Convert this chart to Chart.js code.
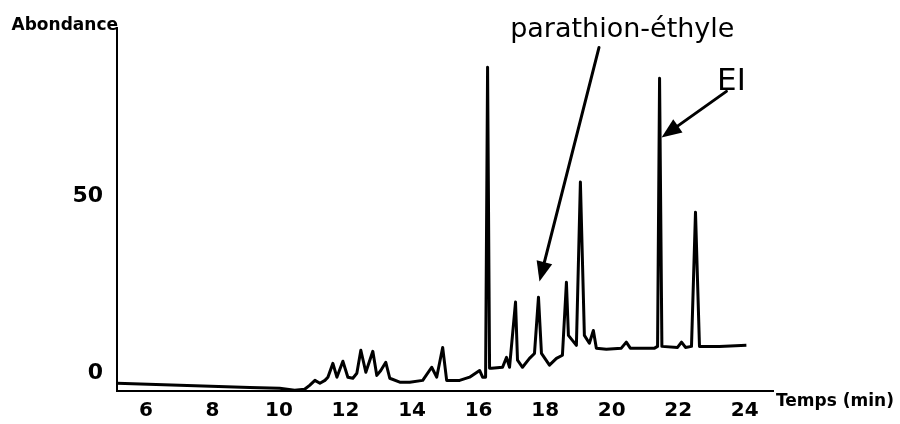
<!DOCTYPE html>
<html>
<head>
<meta charset="utf-8">
<script src="https://cdn.jsdelivr.net/npm/chart.js@4/dist/chart.umd.min.js"></script>
<style>
  html, body { margin: 0; padding: 0; background: #fff; }
  #wrap { width: 900px; height: 424px; }
</style>
</head>
<body>
<div id="wrap"><canvas id="chromato" width="900" height="424"></canvas></div>
<script>
// Retention time (min) and abundance
const times = [
  5.13, 9.12, 10.02, 10.47, 10.77, 10.92, 11.08, 11.23, 11.38, 11.47,
  11.62, 11.74, 11.92, 12.07, 12.22, 12.34, 12.46, 12.61, 12.82, 12.94,
  13.06, 13.21, 13.33, 13.63, 13.93, 14.32, 14.59, 14.74, 14.92, 15.04,
  15.43, 15.73, 16.03, 16.12, 16.21, 16.27, 16.33, 16.39, 16.72, 16.84,
  16.93, 17.11, 17.17, 17.32, 17.53, 17.68, 17.80, 17.89, 18.13, 18.34,
  18.52, 18.64, 18.70, 18.82, 18.94, 19.06, 19.18, 19.33, 19.45, 19.54,
  19.84, 20.29, 20.44, 20.56, 21.29, 21.38, 21.44, 21.51, 21.98, 22.10,
  22.22, 22.40, 22.52, 22.64, 23.24, 24.05
];
const abundance = [
  -2.8, -4.0, -4.2, -4.8, -4.5, -3.4, -2.0, -2.8, -2.0, -1.1,
  2.8, -1.1, 3.4, -1.1, -1.4, 0.0, 6.5, 0.3, 6.2, -0.6,
  0.8, 3.1, -1.4, -2.5, -2.5, -2.0, 1.7, -1.1, 7.3, -2.0,
  -2.0, -1.1, 0.8, -1.1, -1.1, 86.4, 1.4, 1.4, 1.7, 4.5,
  1.7, 20.1, 3.7, 1.7, 4.2, 5.6, 21.5, 5.6, 2.3, 4.2,
  5.1, 25.7, 10.7, 9.3, 7.9, 54.0, 10.7, 8.5, 12.1, 7.1,
  6.8, 7.1, 8.8, 7.1, 7.1, 7.6, 83.3, 7.6, 7.3, 8.8,
  7.3, 7.6, 45.5, 7.6, 7.6, 7.9
];

const xTicks = [6, 8, 10, 12, 14, 16, 18, 20, 22, 24];
const yTicks = [0, 50];

const xLabel = 'Temps (min)';
const yLabel = 'Abondance';

// annotations: label (centre/baseline) + arrow from (fromT, fromV) to (toT, toV), in data units
const noteLabels = ['parathion-éthyle', 'EI'];
const noteTextT = [20.32, 23.60];
const noteTextV = [94.9, 79.9];
const noteFromT = [19.62, 23.45];
const noteFromV = [92.0, 79.6];
const noteToT = [17.83, 21.50];
const noteToV = [25.9, 66.6];

const FONT = '"DejaVu Sans", sans-serif';

const points = times.map((t, i) => ({ x: t, y: abundance[i] }));

function drawArrow(ctx, x1, y1, x2, y2) {
  const ang = Math.atan2(y2 - y1, x2 - x1);
  const headLen = 20, headW = 8;
  const bx = x2 - headLen * Math.cos(ang), by = y2 - headLen * Math.sin(ang);
  ctx.beginPath();
  ctx.moveTo(x1, y1);
  ctx.lineTo(bx, by);
  ctx.stroke();
  ctx.beginPath();
  ctx.moveTo(x2, y2);
  ctx.lineTo(bx + headW * Math.sin(ang), by - headW * Math.cos(ang));
  ctx.lineTo(bx - headW * Math.sin(ang), by + headW * Math.cos(ang));
  ctx.closePath();
  ctx.fill();
}

const notesPlugin = {
  id: 'notes',
  afterDraw(chart) {
    const ctx = chart.ctx;
    const xs = chart.scales.x, ys = chart.scales.y;
    const area = chart.chartArea;
    ctx.save();
    ctx.fillStyle = '#000';
    ctx.strokeStyle = '#000';
    ctx.lineWidth = 3;
    ctx.lineCap = 'round';

    // axis titles
    ctx.font = 'bold 17px ' + FONT;
    ctx.textBaseline = 'alphabetic';
    ctx.textAlign = 'right';
    ctx.fillText(yLabel, area.left + 1, area.top + 2);
    ctx.textAlign = 'left';
    ctx.fillText(xLabel, area.right + 3, area.bottom + 15);

    // annotations
    noteLabels.forEach((txt, i) => {
      ctx.font = (i === 0 ? '27px ' : '31px ') + FONT;
      ctx.textAlign = 'center';
      ctx.fillText(txt, xs.getPixelForValue(noteTextT[i]), ys.getPixelForValue(noteTextV[i]));
      drawArrow(ctx,
        xs.getPixelForValue(noteFromT[i]), ys.getPixelForValue(noteFromV[i]),
        xs.getPixelForValue(noteToT[i]), ys.getPixelForValue(noteToV[i]));
    });
    ctx.restore();
  }
};

new Chart(document.getElementById('chromato'), {
  type: 'line',
  data: {
    datasets: [{
      data: points,
      borderColor: '#000',
      borderWidth: 3,
      borderJoinStyle: 'round',
      pointRadius: 0,
      tension: 0,
      fill: false
    }]
  },
  options: {
    responsive: false,
    animation: false,
    layout: { padding: { top: 28, right: 127, left: 0, bottom: 0 } },
    plugins: { legend: { display: false }, tooltip: { enabled: false } },
    scales: {
      x: {
        type: 'linear',
        min: 5.13,
        max: 24.85,
        afterBuildTicks: s => { s.ticks = xTicks.map(v => ({ value: v })); },
        afterFit: s => { s.height = 33; },
        grid: { display: false, drawTicks: false },
        border: { display: true, color: '#000', width: 2 },
        ticks: { color: '#000', padding: 8, font: { family: FONT, size: 20, weight: 'bold' } }
      },
      y: {
        min: -5,
        max: 97.5,
        afterBuildTicks: s => { s.ticks = yTicks.map(v => ({ value: v })); },
        afterFit: s => { s.width = 117; },
        grid: { display: false, drawTicks: false },
        border: { display: true, color: '#000', width: 2 },
        ticks: { color: '#000', padding: 14, font: { family: FONT, size: 22, weight: 'bold' } }
      }
    }
  },
  plugins: [notesPlugin]
});
</script>
</body>
</html>
